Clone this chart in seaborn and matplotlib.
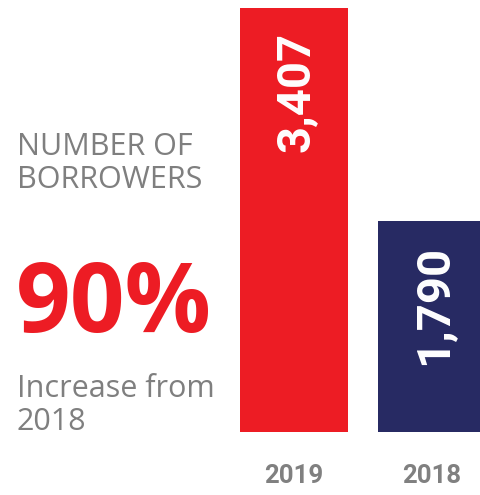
import matplotlib
matplotlib.use("Agg")
import matplotlib.pyplot as plt
import seaborn as sns
import pandas as pd

# Borrower counts by year
years = ["2019", "2018"]
borrowers = [3407, 1790]
value_labels = ["3,407", "1,790"]
bar_colors = ["#ED1C24", "#272A63"]
y_floor = 190

headline = ["NUMBER OF", "BORROWERS"]
increase = "90%"
increase_note = ["Increase from", "2018"]

sns.set_theme(style="white")
plt.rcParams["font.family"] = ["Open Sans", "DejaVu Sans"]

W, H, DPI = 481, 495, 100
fig = plt.figure(figsize=(W / DPI, H / DPI), dpi=DPI)

# Axes spans the full width; bar centres land at x=0 and x=1
px_per_unit = 138.0
c0 = 294.0
ax_bottom_px, ax_top_px = 432.0, 8.0
ax = fig.add_axes([0, 1 - ax_bottom_px / H, 1, (ax_bottom_px - ax_top_px) / H])

df = pd.DataFrame({"year": years, "borrowers": borrowers})
sns.barplot(data=df, x="year", y="borrowers", hue="year", palette=bar_colors,
            width=108 / px_per_unit, dodge=False, legend=False, ax=ax,
            saturation=1, edgecolor="none", linewidth=0)

ax.set_xlim(-c0 / px_per_unit, (W - c0) / px_per_unit)
ax.set_ylim(y_floor, max(borrowers))
ax.set_xlabel("")
ax.set_ylabel("")
ax.set_yticks([])
for s in ax.spines.values():
    s.set_visible(False)
ax.tick_params(axis="x", length=0, pad=23)
for t in ax.get_xticklabels():
    t.set_fontfamily(["Roboto", "DejaVu Sans"])
    t.set_fontweight("bold")
    t.set_fontsize(18.5)
    t.set_color("#808080")

# Rotated value labels inside the top of each bar
for i, (v, lab) in enumerate(zip(borrowers, value_labels)):
    ax.annotate(lab, xy=(i, v), xytext=(1, -17), textcoords="offset points",
                rotation=90, ha="center", va="top", color="white",
                fontsize=34, fontweight="bold",
                fontfamily=["Roboto", "DejaVu Sans"])

grey = "#7F7F7F"
for line, base in zip(headline, [155, 188]):
    fig.text(17 / W, 1 - base / H, line, fontsize=22, color=grey,
             ha="left", va="baseline")
fig.text(16 / W, 1 - 332 / H, increase, fontsize=69, color="#ED1C24",
         fontweight="bold", ha="left", va="baseline")
for line, base in zip(increase_note, [397, 430]):
    fig.text(17 / W, 1 - base / H, line, fontsize=22, color=grey,
             ha="left", va="baseline")

fig.savefig("out.png", dpi=DPI)
